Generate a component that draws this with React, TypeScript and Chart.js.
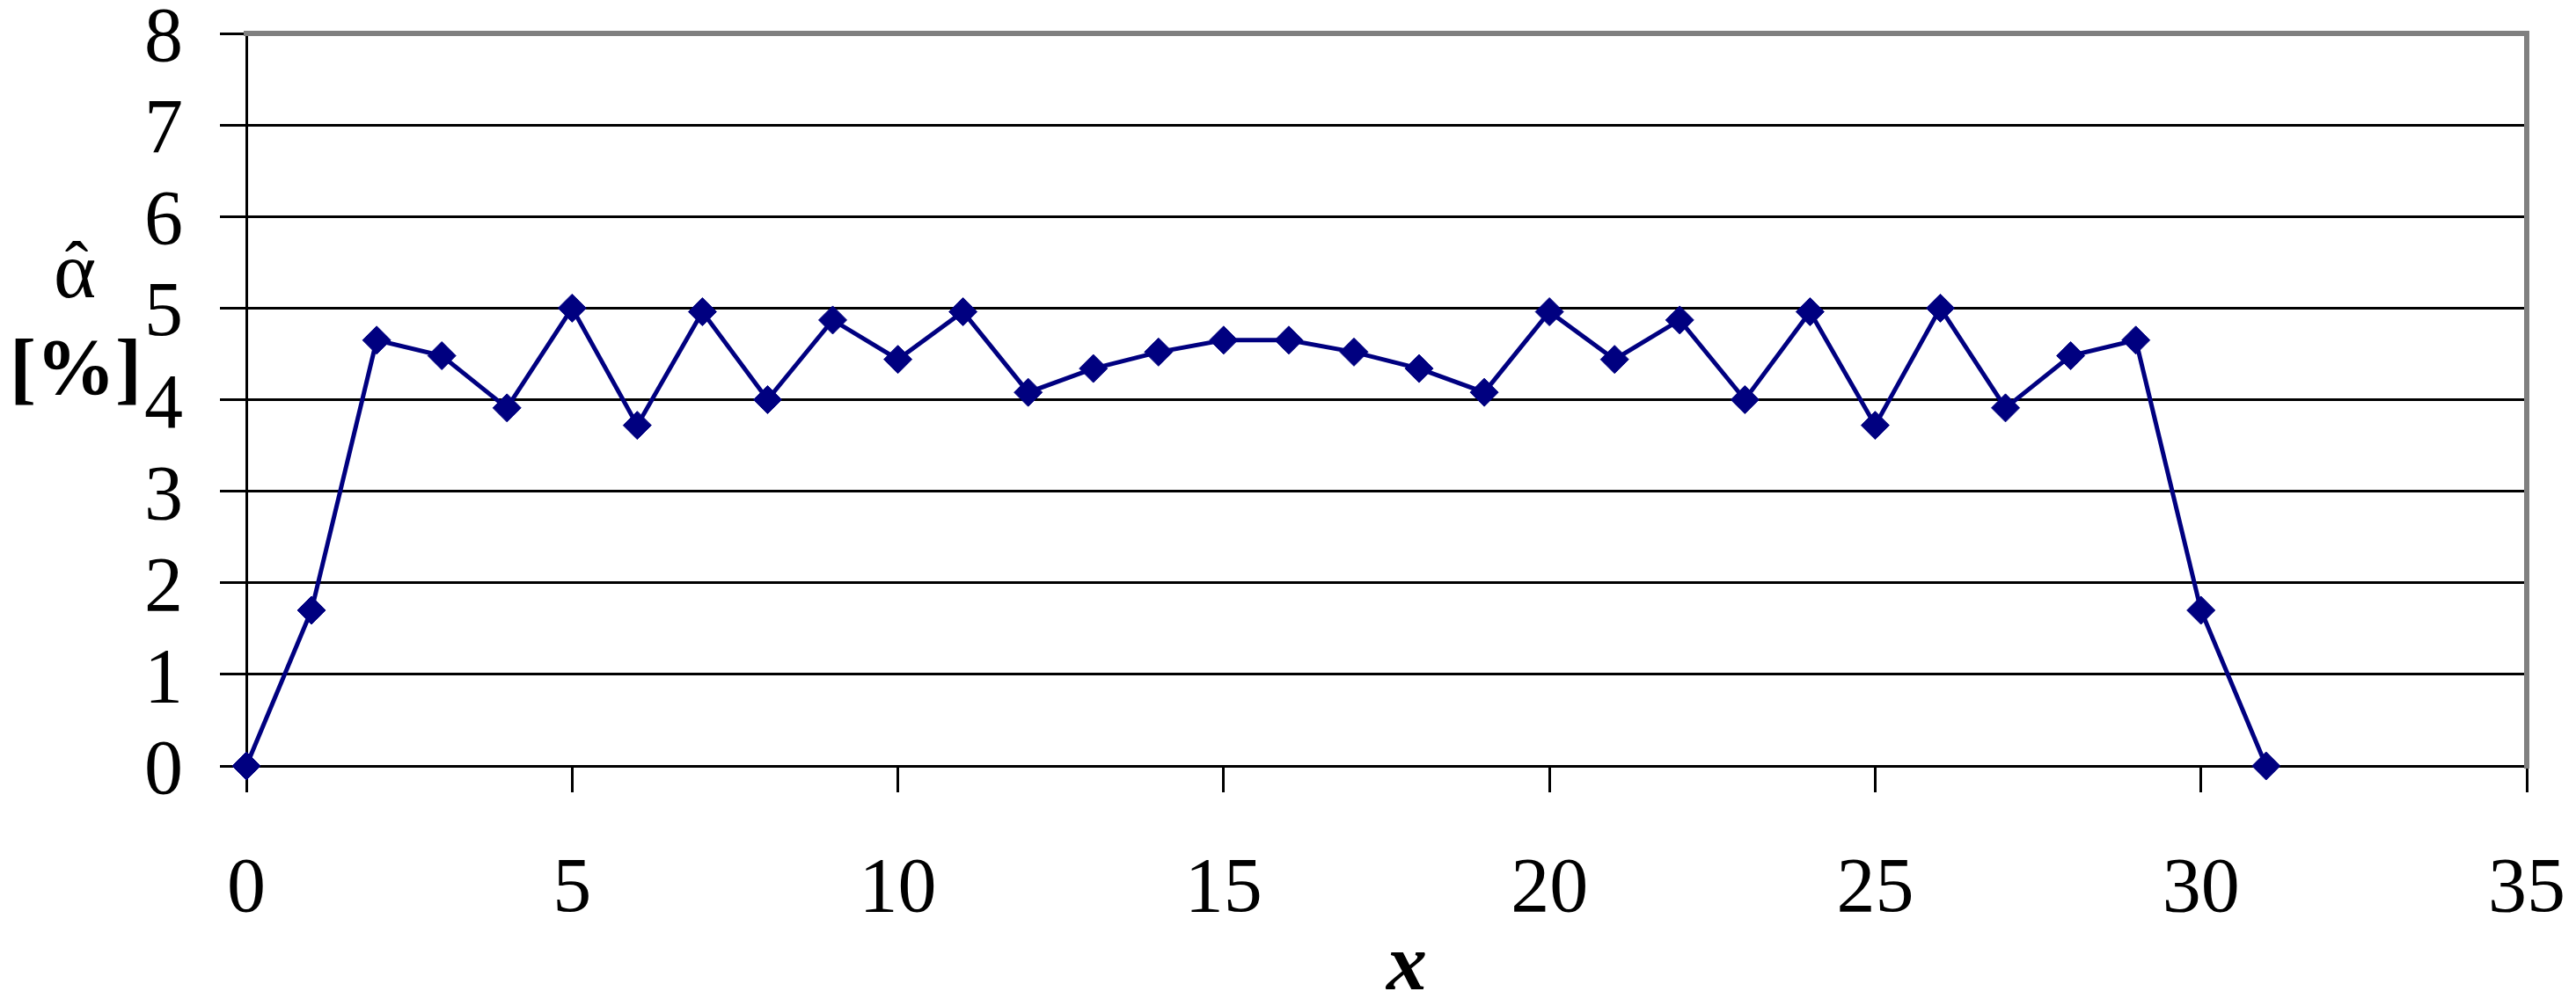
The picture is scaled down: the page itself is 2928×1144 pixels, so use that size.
import React, { useEffect, useRef } from "react";
import { Chart, registerables } from "chart.js";

Chart.register(...registerables);

const xValues: number[] = [0, 1, 2, 3, 4, 5, 6, 7, 8, 9, 10, 11, 12, 13, 14, 15, 16, 17, 18, 19, 20, 21, 22, 23, 24, 25, 26, 27, 28, 29, 30, 31];
const alphaValues: number[] = [0, 1.7, 4.65, 4.48, 3.91, 5.0, 3.72, 4.96, 4.0, 4.87, 4.44, 4.96, 4.08, 4.34, 4.52, 4.65, 4.65, 4.52, 4.34, 4.08, 4.96, 4.44, 4.87, 4.0, 4.96, 3.72, 5.0, 3.91, 4.48, 4.65, 1.7, 0];

const xTickStep = 5;
const xMin = 0;
const xMax = 35;
const yTickStep = 1;
const yMin = 0;
const yMax = 8;

const yTitleLetter = "α";
const yTitleHat = "ˆ";
const yTitleBottom = "[%]";
const xTitle = "x";

const FONT = "'Liberation Serif', 'Times New Roman', serif";

const W = 2928;
const H = 1144;

const framePlugin = {
  id: "framePlugin",
  beforeDatasetsDraw(chart: any) {
    const { ctx, chartArea } = chart;
    ctx.save();
    ctx.strokeStyle = "#808080";
    ctx.lineWidth = 6;
    ctx.lineCap = "square";
    ctx.beginPath();
    ctx.moveTo(chartArea.left, chartArea.top);
    ctx.lineTo(chartArea.right, chartArea.top);
    ctx.lineTo(chartArea.right, chartArea.bottom);
    ctx.stroke();
    ctx.restore();
  },
  afterDraw(chart: any) {
    const { ctx } = chart;
    ctx.save();
    ctx.fillStyle = "#000";
    ctx.textAlign = "center";
    ctx.textBaseline = "alphabetic";
    ctx.font = `normal 92px ${FONT}`;
    ctx.fillText(yTitleLetter, 85, 338);
    ctx.font = `normal 80px ${FONT}`;
    ctx.fillText(yTitleHat, 87, 330);
    ctx.font = `bold 90px ${FONT}`;
    ctx.fillText(yTitleBottom, 86, 448);
    ctx.font = `italic bold 92px ${FONT}`;
    ctx.fillText(xTitle, 1599, 1125);
    ctx.restore();
  },
};

export default function App() {
  const canvasRef = useRef<HTMLCanvasElement | null>(null);

  useEffect(() => {
    const canvas = canvasRef.current;
    if (!canvas) return;
    const points = xValues.map((x, i) => ({ x, y: alphaValues[i] }));
    const chart = new Chart(canvas, {
      type: "line",
      data: {
        datasets: [
          {
            data: points,
            borderColor: "#000080",
            backgroundColor: "#000080",
            borderWidth: 5,
            pointStyle: "rectRot",
            pointRadius: 16,
            pointBorderWidth: 1,
            pointBackgroundColor: "#000080",
            pointBorderColor: "#000080",
            tension: 0,
            clip: false as any,
          },
        ],
      },
      options: {
        animation: false,
        responsive: false,
        devicePixelRatio: 1,
        layout: { padding: { top: 38, right: 56, left: 0, bottom: 0 } },
        plugins: {
          legend: { display: false },
          tooltip: { enabled: false },
          title: { display: false },
        },
        scales: {
          x: {
            type: "linear",
            min: xMin,
            max: xMax,
            ticks: {
              stepSize: xTickStep,
              autoSkip: false,
              font: { family: FONT, size: 88 },
              color: "#000",
              padding: 59,
              maxRotation: 0,
            },
            grid: {
              drawOnChartArea: false,
              drawTicks: true,
              tickLength: 30,
              color: "#000",
              lineWidth: 3,
            },
            border: { color: "#000", width: 3 },
            afterFit: (scale: any) => {
              scale.height = 273;
              scale.paddingLeft = 0;
              scale.paddingRight = 0;
            },
          },
          y: {
            type: "linear",
            min: yMin,
            max: yMax,
            ticks: {
              stepSize: yTickStep,
              autoSkip: false,
              font: { family: FONT, size: 88, lineHeight: "16px" },
              color: "#000",
              padding: 42,
              callback: (value: any) => ["", String(value)],
            },
            grid: {
              drawTicks: true,
              tickLength: 30,
              color: "#000",
              lineWidth: 3,
            },
            border: { color: "#000", width: 3 },
            afterFit: (scale: any) => {
              scale.width = 280;
              scale.paddingTop = 0;
              scale.paddingBottom = 0;
            },
          },
        },
      },
      plugins: [framePlugin],
    });
    return () => {
      chart.destroy();
    };
  }, []);

  return (
    <div style={{ position: "fixed", left: 0, top: 0, width: W, height: H, background: "#fff" }}>
      <canvas ref={canvasRef} width={W} height={H} style={{ width: W, height: H, display: "block" }} />
    </div>
  );
}
